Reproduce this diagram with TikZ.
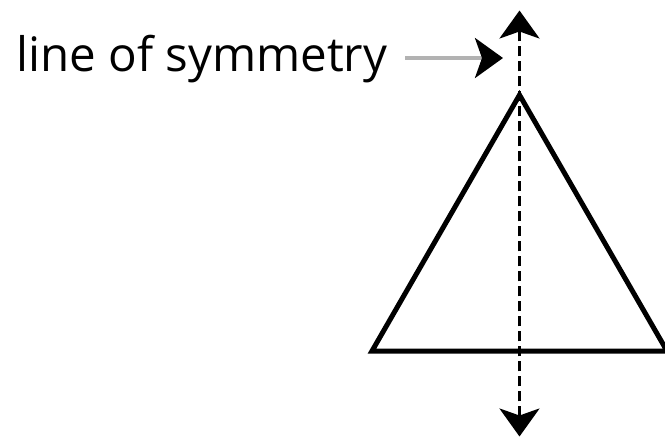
\documentclass[tikz,border=0pt]{standalone}
\usepackage{fontspec}
\setmainfont{Open Sans}
\usetikzlibrary{arrows.meta}
\tikzset{
  headtip/.tip={Stealth[length=28pt,width=40pt,inset=7pt]},
  tri/.style={draw=black, line width=5pt, line join=miter},
  symline/.style={draw=black, line width=3pt, dash pattern=on 10pt off 5pt,
    headtip-headtip},
  pointer/.style={draw=black!30, line width=4pt,
    -{Stealth[length=28pt,width=40pt,inset=7pt,color=black]}},
  lbl/.style={font=\fontsize{47.5}{52}\selectfont, inner sep=0pt, anchor=base west}
}
\begin{document}
\begin{tikzpicture}[x=1pt,y=-1pt]
\useasboundingbox (0,0) rectangle (665,437);
\coordinate (apex) at (519.5,95);
\coordinate (bl) at (372,351);
\coordinate (br) at (667,351);
\path[tri] (apex) -- (bl) -- (br) -- cycle;
\coordinate (top) at (519.5,10.5);
\coordinate (bot) at (519.5,436.5);
\path[symline] (bot) -- (top);
\node[lbl] (label) at (16,71.5) {line of symmetry};
\coordinate (ptip) at (503,58);
\path[pointer] (405,58) coordinate (pstart) -- (ptip);
\end{tikzpicture}
\end{document}
